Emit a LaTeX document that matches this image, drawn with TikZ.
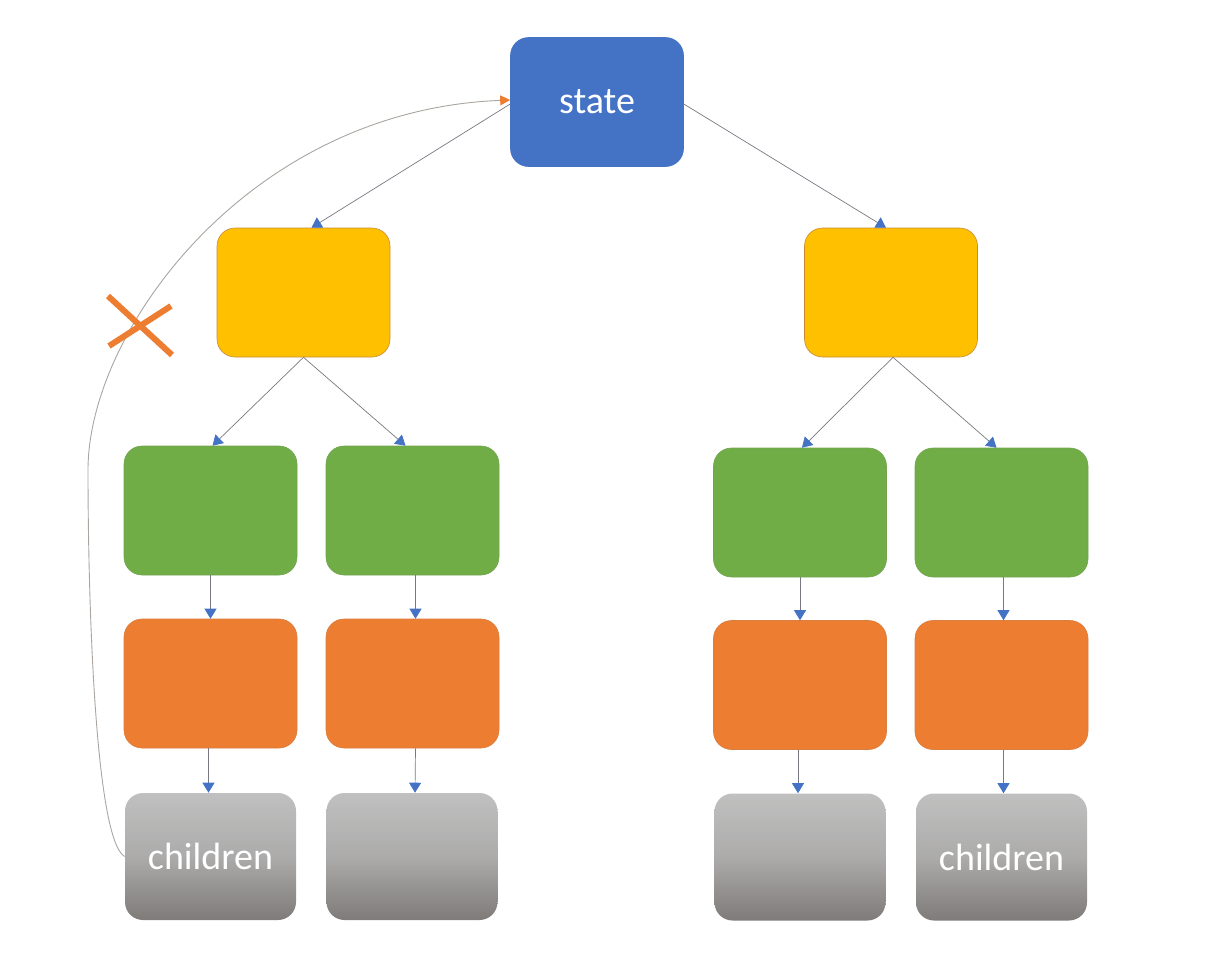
\documentclass[tikz,border=0pt]{standalone}
\usepackage{fontspec}
\setmainfont{Carlito}
\usetikzlibrary{arrows.meta}
\definecolor{cblue}{RGB}{68,114,196}
\definecolor{cyellow}{RGB}{255,192,0}
\definecolor{cgreen}{RGB}{112,173,71}
\definecolor{corange}{RGB}{237,125,49}
\definecolor{cgrayT}{RGB}{192,192,192}
\definecolor{cgrayB}{RGB}{126,123,121}
\definecolor{cline}{RGB}{120,120,130}
\definecolor{cedge}{RGB}{130,130,140}
\definecolor{cback}{RGB}{170,165,160}
\tikzset{
  box/.style={rectangle, rounded corners=18pt, minimum width=173pt, minimum height=129pt,
    inner sep=0pt, draw=cedge, line width=0.6pt, text=white, font=\fontsize{38}{40}\selectfont},
  statebox/.style={box, fill=cblue, draw=cblue},
  ybox/.style={box, fill=cyellow, draw=corange!70!cgreen},
  gbox/.style={box, fill=cgreen, draw=cgreen!80!gray},
  obox/.style={box, fill=corange, draw=corange!80!gray},
  kbox/.style={box, top color=cgrayT, bottom color=cgrayB, middle color=cgrayT!70!cgrayB, draw=none, minimum width=171pt, minimum height=127pt},
  conn/.style={draw=cline, line width=0.7pt, -{Triangle[length=10pt,width=12pt,color=cblue]}},
  back/.style={draw=cback, line width=0.9pt, -{Triangle[length=10pt,width=10pt,color=corange]}},
  cross/.style={draw=corange, line width=6pt}
}
\begin{document}
\begin{tikzpicture}[x=1pt,y=-1pt]
\useasboundingbox (0,0) rectangle (1229,970);
% nodes
\node[statebox] (s) at (597,102) {state};
\node[ybox] (yl) at (303.5,292.5) {};
\node[ybox] (yr) at (891,292.5) {};
\node[gbox] (g1) at (210.5,510.5) {};
\node[gbox] (g2) at (412.5,510.5) {};
\node[gbox] (g3) at (800,512.5) {};
\node[gbox] (g4) at (1001.5,512.5) {};
\node[obox] (o1) at (210.5,683.5) {};
\node[obox] (o2) at (412.5,683.5) {};
\node[obox] (o3) at (800,685) {};
\node[obox] (o4) at (1001.5,685) {};
\node[kbox] (k1) at (210.5,856.5) {children};
\node[kbox] (k2) at (412,856.5) {};
\node[kbox] (k3) at (800,857) {};
\node[kbox] (k4) at (1001.5,857) {children};
% connectors
\draw[conn] ([yshift=-2pt]s.west) -- ([xshift=8pt]yl.north);
\draw[conn] ([yshift=-2pt]s.east) -- ([xshift=-5pt]yr.north);
\draw[conn] (yl.south) -- ([xshift=2pt]g1.north);
\draw[conn] (yl.south) -- ([xshift=-7pt]g2.north);
\draw[conn] ([xshift=2pt]yr.south) -- ([xshift=2pt]g3.north);
\draw[conn] ([xshift=2pt]yr.south) -- ([xshift=-5pt]g4.north);
\draw[conn] (g1.south) -- (o1.north);
\draw[conn] ([xshift=3pt]g2.south) -- ([xshift=3pt]o2.north);
\draw[conn] (g3.south) -- (o3.north);
\draw[conn] ([xshift=2pt]g4.south) -- ([xshift=2pt]o4.north);
\draw[conn] ([xshift=-2pt]o1.south) -- ([xshift=-2pt]k1.north);
\draw[conn] ([xshift=3pt]o2.south) -- ([xshift=3pt]k2.north);
\draw[conn] ([xshift=-2pt]o3.south) -- ([xshift=-2pt]k3.north);
\draw[conn] ([xshift=2pt]o4.south) -- ([xshift=2pt]k4.north);
% feedback curve
\coordinate (mid) at (88,470);
\draw[back] (k1.west) .. controls (95,840) and (88,600) .. (mid)
  .. controls (88,330) and (250,110) .. ([yshift=2pt]s.west);
% cross
\draw[cross] (108,296) -- (172,355);
\draw[cross] (109,346) -- (171,306);
\end{tikzpicture}
\end{document}
